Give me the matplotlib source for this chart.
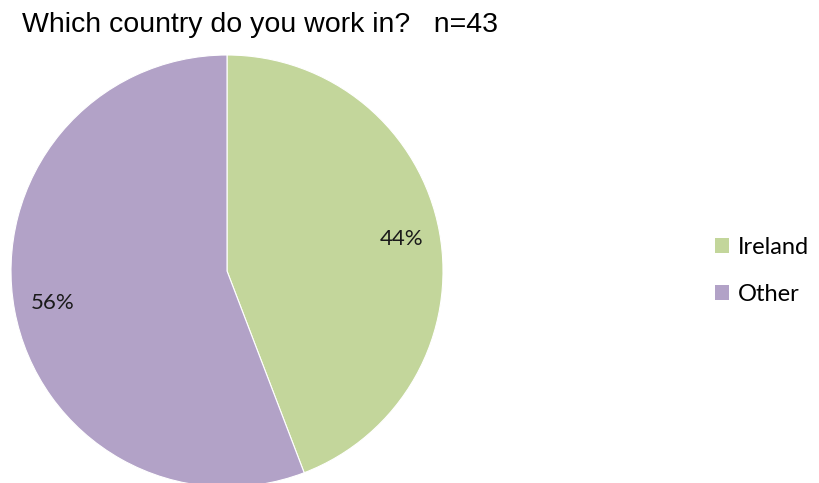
import matplotlib.pyplot as plt
from matplotlib.patches import Patch

labels = ["Ireland", "Other"]
counts = [19, 24]  # n=43
colors = ["#C3D69B", "#B2A2C7"]
title = "Which country do you work in?   n=43"

W, H = 819, 483
fig = plt.figure(figsize=(W / 100, H / 100), dpi=100)

# pie axes placed in pixel terms: centre (227, 271), radius 216
cx, cy, r = 227, 271, 216
ax = fig.add_axes([(cx - r) / W, (H - cy - r) / H, 2 * r / W, 2 * r / H])
wedges, texts, autotexts = ax.pie(
    counts, colors=colors, startangle=90, counterclock=False,
    autopct="%1.0f%%", pctdistance=0.82, radius=1,
    wedgeprops=dict(edgecolor="white", linewidth=0.8),
    textprops=dict(family="Lato", fontsize=16, color="#1a1a1a"))
ax.set_xlim(-1, 1)
ax.set_ylim(-1, 1)
ax.set_aspect("equal")
ax.axis("off")
for w in wedges:
    w.set_clip_on(False)

fig.text(22 / W, 1 - 25 / H, title, family="Liberation Sans", fontsize=20.5,
         ha="left", va="center", color="black")

handles = [Patch(facecolor=c, edgecolor="none") for c in colors]
fig.legend(handles, labels, loc="center left", bbox_to_anchor=(715 / W, 1 - 271 / H),
           frameon=False, prop=dict(family="Lato", size=17),
           borderpad=0, borderaxespad=0,
           handlelength=0.6, handleheight=0.6, handletextpad=0.35, labelspacing=1.1)

fig.savefig("out.png", dpi=100)
